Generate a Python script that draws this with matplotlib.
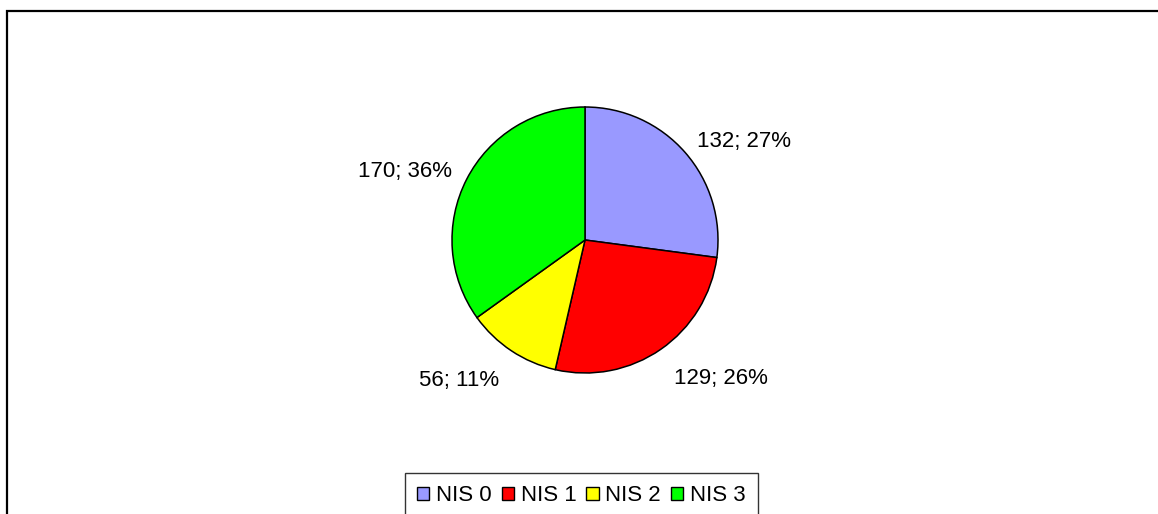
import numpy as np
import matplotlib
matplotlib.use("Agg")
import matplotlib.pyplot as plt
from matplotlib.patches import Patch, Rectangle

categories = ["NIS 0", "NIS 1", "NIS 2", "NIS 3"]
values = [132, 129, 56, 170]
percents = [27, 26, 11, 36]
colors = ["#9999FF", "#FF0000", "#FFFF00", "#00FF00"]

plt.rcParams['font.family'] = ['Liberation Sans', 'DejaVu Sans']

W, H = 1158, 514
fig = plt.figure(figsize=(W / 100, H / 100), dpi=100)
fig.patch.set_facecolor("white")

# outer chart frame (extends beyond right/bottom edges)
fig.patches.append(Rectangle((7.5 / W, -0.2), 1.2, 1.2 - 11.5 / H,
                             transform=fig.transFigure, fill=False,
                             edgecolor="black", linewidth=1.6, zorder=0))

cx, cy, r = 585, 240, 133
ax = fig.add_axes([(cx - r) / W, (H - cy - r) / H, 2 * r / W, 2 * r / H])
labels = [f"{v}; {p}%" for v, p in zip(values, percents)]
wedges, texts = ax.pie(values, colors=colors, startangle=90, counterclock=False,
                       labels=labels, labeldistance=1.12,
                       wedgeprops=dict(edgecolor="black", linewidth=1.1),
                       textprops=dict(fontsize=16, color="black"))
# Excel-like placement: lower labels hang below their anchor point
for w, t in zip(wedges, texts):
    mid = np.deg2rad((w.theta1 + w.theta2) / 2)
    if np.sin(mid) < 0:
        d = 1.17
        t.set_position((d * np.cos(mid), d * np.sin(mid)))
        t.set_va("top")
ax.set_xlim(-1, 1)
ax.set_ylim(-1, 1)
ax.set_aspect("equal")
ax.axis("off")

handles = [Patch(facecolor=c, edgecolor="black", linewidth=1.0) for c in colors]
leg = fig.legend(handles, categories, loc="upper left",
                 bbox_to_anchor=(405 / W, 1 - 473 / H), ncol=4,
                 fontsize=16, frameon=True, fancybox=False,
                 edgecolor="black", borderaxespad=0, handlelength=0.55,
                 handleheight=0.55, handletextpad=0.3, columnspacing=0.45,
                 borderpad=0.55)
leg.get_frame().set_linewidth(1.0)

fig.savefig("out.png", dpi=100, facecolor="white")
